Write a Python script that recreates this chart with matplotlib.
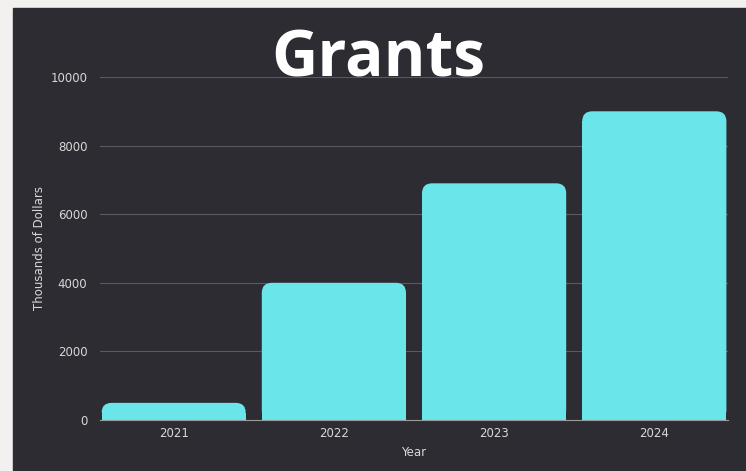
import matplotlib.pyplot as plt
from matplotlib.patches import FancyBboxPatch, Rectangle

years = ["2021", "2022", "2023", "2024"]
grants = [500, 4000, 6900, 9000]

bg = "#f2f1ef"
panel = "#2d2c33"
bar_color = "#6ae6ea"
text_color = "#d8d8d8"

plt.rcParams['font.family'] = ['DejaVu Sans']

W, H = 746, 471
fig = plt.figure(figsize=(W / 100, H / 100), dpi=100, facecolor=bg)
fig.patches.append(Rectangle((13 / W, 0), 1 - 13 / W, (H - 8) / H,
                             transform=fig.transFigure, color=panel, zorder=-10))

ax = fig.add_axes([100 / W, (H - 420) / H, 628 / W, 343 / H])
ax.set_facecolor(panel)

bars = ax.bar(years, grants, width=0.9, color=bar_color, zorder=2)
ax.set_xlim(-0.46, 3.46)
ax.set_ylim(0, 10000)
ax.set_yticks(range(0, 10001, 2000))

# rounded tops
fig.canvas.draw()
px_x = (ax.transData.transform((1, 0))[0] - ax.transData.transform((0, 0))[0])
px_y = (ax.transData.transform((0, 1000))[1] - ax.transData.transform((0, 0))[1]) / 1000
r_px = 10
for b in bars:
    x, w, h = b.get_x(), b.get_width(), b.get_height()
    b.set_visible(False)
    rx = r_px / px_x
    ry = r_px / px_y
    ax.add_patch(FancyBboxPatch((x, 0), w, h,
                                boxstyle=f"round,pad=0,rounding_size={rx}",
                                mutation_aspect=ry / rx,
                                color=bar_color, lw=0, zorder=2))
    ax.add_patch(Rectangle((x, 0), w, max(h - ry, 0), color=bar_color, lw=0, zorder=2))

ax.grid(axis='y', color='#5a5960', linewidth=0.8, zorder=1)
for s in ['top', 'right', 'left']:
    ax.spines[s].set_visible(False)
ax.spines['bottom'].set_color('#9a9a9a')
ax.tick_params(axis='both', length=0, colors=text_color, labelsize=8.5, pad=9)
ax.tick_params(axis='x', pad=5)

ax.set_xlabel("Year", color=text_color, fontsize=8.5, labelpad=4)
ax.set_ylabel("Thousands of Dollars", color=text_color, fontsize=8.5, labelpad=3)

fig.text(378 / W, (H - 60) / H, "Grants", color="white", fontsize=46,
         fontweight='bold', family=['Open Sans', 'DejaVu Sans'],
         ha='center', va='center', zorder=5)

fig.savefig("out.png", dpi=100, facecolor=bg)
